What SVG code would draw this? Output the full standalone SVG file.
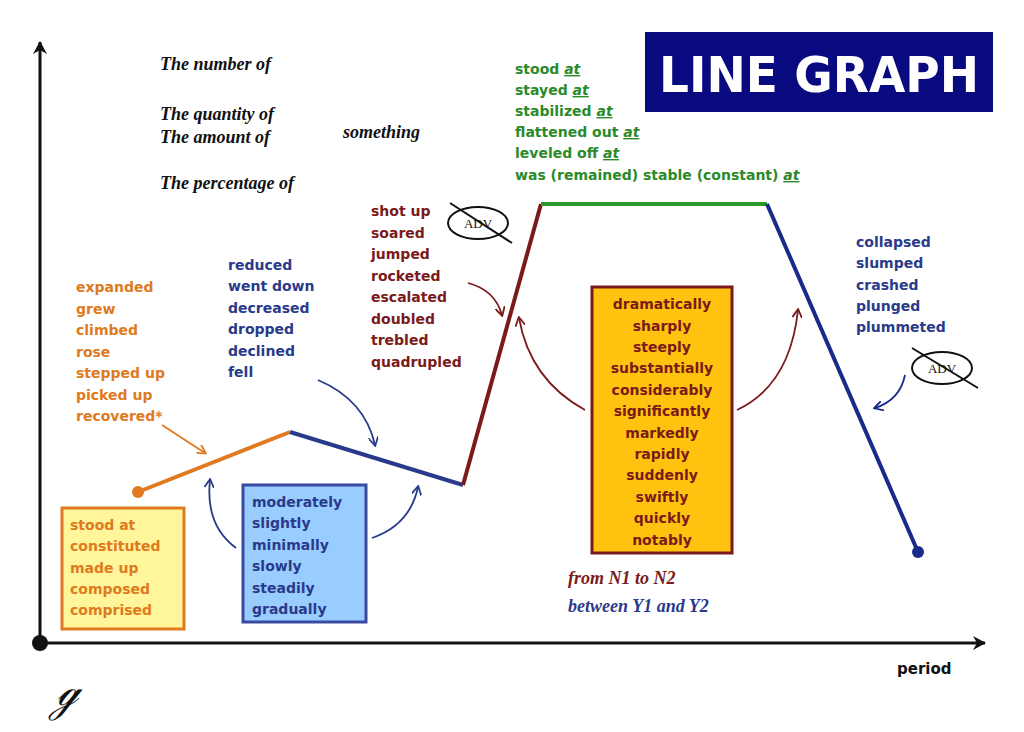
<svg xmlns="http://www.w3.org/2000/svg" width="1024" height="732" viewBox="0 0 1024 732">
<style>
.s{font-family:"Liberation Serif",serif;font-style:italic;font-weight:bold;font-size:18px;fill:#111}
.b{font-family:"DejaVu Sans",sans-serif;font-weight:bold;font-size:14px}
.g{fill:#2a8a2a}.r{fill:#7a1a1a}.o{fill:#e07a20}.n{fill:#2a3a8a}
.a{fill:none;stroke-width:1.8}
</style>
<defs>
<marker id="mk" markerWidth="10" markerHeight="10" refX="8" refY="5" orient="auto" markerUnits="userSpaceOnUse"><path d="M0,0 L9,5 L0,10" fill="none" stroke="context-stroke" stroke-width="1.8"/></marker>
<marker id="ax" markerWidth="14" markerHeight="14" refX="12" refY="7" orient="auto" markerUnits="userSpaceOnUse"><path d="M0,0 L13,7 L0,14 L4,7Z" fill="#111"/></marker>
</defs>
<rect width="1024" height="732" fill="#fff"/>
<g id="axes" stroke="#111" stroke-width="3">
<line x1="40" y1="643" x2="40" y2="42" marker-end="url(#ax)"/>
<line x1="40" y1="643" x2="985" y2="643" marker-end="url(#ax)"/>
<circle cx="40" cy="643" r="8" fill="#111" stroke="none"/>
</g>
<g id="graph" stroke-width="4" fill="none">
<line x1="138" y1="492" x2="290" y2="432" stroke="#e07a20"/>
<circle cx="138" cy="492" r="6" fill="#e07a20" stroke="none"/>
<line x1="290" y1="432" x2="463" y2="485" stroke="#2a3a8a"/>
<line x1="463" y1="485" x2="541" y2="204" stroke="#7a1a1a"/>
<line x1="541" y1="204" x2="767" y2="204" stroke="#2a9a2a"/>
<line x1="767" y1="204" x2="918" y2="552" stroke="#1a2a8a"/>
<circle cx="918" cy="552" r="6" fill="#1a2a8a" stroke="none"/>
</g>
<g id="connectors">
<path class="a" stroke="#e07a20" d="M162,425 L205,453" marker-end="url(#mk)"/>
<path class="a" stroke="#2a3a8a" d="M318,380 Q365,400 375,445" marker-end="url(#mk)"/>
<path class="a" stroke="#2a3a8a" d="M236,548 Q205,525 210,480" marker-end="url(#mk)"/>
<path class="a" stroke="#2a3a8a" d="M372,538 Q410,525 418,487" marker-end="url(#mk)"/>
<path class="a" stroke="#7a1a1a" d="M468,283 Q495,290 502,315" marker-end="url(#mk)"/>
<path class="a" stroke="#7a1a1a" d="M585,410 Q530,380 519,318" marker-end="url(#mk)"/>
<path class="a" stroke="#7a1a1a" d="M737,410 Q790,385 798,310" marker-end="url(#mk)"/>
<path class="a" stroke="#1a2a8a" d="M905,375 Q900,400 875,408" marker-end="url(#mk)"/>
</g>
<g id="subject">
<text class="s" x="160" y="70">The number of</text>
<text class="s" x="160" y="120">The quantity of</text>
<text class="s" x="160" y="143">The amount of</text>
<text class="s" x="160" y="189">The percentage of</text>
<text class="s" x="343" y="138" font-size="26">something</text>
</g>
<g id="title">
<rect x="645" y="32" width="348" height="80" fill="#0a0a80"/>
<text x="819" y="92" text-anchor="middle" font-family="'DejaVu Sans',sans-serif" font-weight="900" font-size="50" fill="#fff" textLength="320" lengthAdjust="spacingAndGlyphs">LINE  GRAPH</text>
</g>
<g id="stable" class="b g">
<text x="515" y="74">stood <tspan font-style="italic" text-decoration="underline">at</tspan></text>
<text x="515" y="95">stayed <tspan font-style="italic" text-decoration="underline">at</tspan></text>
<text x="515" y="116">stabilized <tspan font-style="italic" text-decoration="underline">at</tspan></text>
<text x="515" y="137">flattened out <tspan font-style="italic" text-decoration="underline">at</tspan></text>
<text x="515" y="158">leveled off <tspan font-style="italic" text-decoration="underline">at</tspan></text>
<text x="515" y="180">was (remained) stable (constant) <tspan font-style="italic" text-decoration="underline">at</tspan></text>
</g>
<g id="rise-fast" class="b r">
<text x="371" y="216">shot up</text><text x="371" y="238">soared</text><text x="371" y="259">jumped</text><text x="371" y="281">rocketed</text><text x="371" y="302">escalated</text><text x="371" y="324">doubled</text><text x="371" y="345">trebled</text><text x="371" y="367">quadrupled</text>
</g>
<g id="adv1">
<ellipse cx="478" cy="223" rx="30" ry="16" fill="#fff" stroke="#111" stroke-width="2"/>
<text x="478" y="228" text-anchor="middle" font-family="'Liberation Serif',serif" font-size="13" fill="#111">ADV</text>
<line x1="450" y1="203" x2="512" y2="243" stroke="#111" stroke-width="2"/>
</g>
<g id="rise" class="b o">
<text x="76" y="292">expanded</text><text x="76" y="314">grew</text><text x="76" y="335">climbed</text><text x="76" y="357">rose</text><text x="76" y="378">stepped up</text><text x="76" y="400">picked up</text><text x="76" y="421">recovered*</text>
</g>
<g id="fall" class="b n">
<text x="228" y="270">reduced</text><text x="228" y="291">went down</text><text x="228" y="313">decreased</text><text x="228" y="334">dropped</text><text x="228" y="356">declined</text><text x="228" y="377">fell</text>
</g>
<g id="fall-fast" class="b n">
<text x="856" y="247">collapsed</text><text x="856" y="268">slumped</text><text x="856" y="290">crashed</text><text x="856" y="311">plunged</text><text x="856" y="332">plummeted</text>
</g>
<g id="adv2">
<ellipse cx="942" cy="368" rx="30" ry="16" fill="#fff" stroke="#111" stroke-width="2"/>
<text x="942" y="373" text-anchor="middle" font-family="'Liberation Serif',serif" font-size="13" fill="#111">ADV</text>
<line x1="912" y1="348" x2="978" y2="388" stroke="#111" stroke-width="2"/>
</g>
<g id="start-box">
<rect x="62" y="508" width="122" height="121" fill="#fff59a" stroke="#e07a20" stroke-width="3"/>
<g class="b o"><text x="70" y="530">stood at</text><text x="70" y="551">constituted</text><text x="70" y="573">made up</text><text x="70" y="594">composed</text><text x="70" y="615">comprised</text></g>
</g>
<g id="slow-box">
<rect x="243" y="485" width="123" height="137" fill="#99ccff" stroke="#3a4aa0" stroke-width="3"/>
<g class="b n"><text x="252" y="507">moderately</text><text x="252" y="528">slightly</text><text x="252" y="550">minimally</text><text x="252" y="571">slowly</text><text x="252" y="593">steadily</text><text x="252" y="614">gradually</text></g>
</g>
<g id="fast-box">
<rect x="592" y="287" width="140" height="266" fill="#ffc20e" stroke="#7a1a1a" stroke-width="3"/>
<g class="b r" text-anchor="middle">
<text x="662" y="309">dramatically</text><text x="662" y="331">sharply</text><text x="662" y="352">steeply</text><text x="662" y="373">substantially</text><text x="662" y="395">considerably</text><text x="662" y="416">significantly</text><text x="662" y="438">markedly</text><text x="662" y="459">rapidly</text><text x="662" y="480">suddenly</text><text x="662" y="502">swiftly</text><text x="662" y="523">quickly</text><text x="662" y="545">notably</text>
</g>
</g>
<g id="range">
<text class="s r" x="568" y="584">from N1 to N2</text>
<text class="s n" x="568" y="612">between Y1 and Y2</text>
</g>
<text x="897" y="674" font-family="'DejaVu Sans',sans-serif" font-weight="bold" font-size="15" fill="#111">period</text>
<text x="55" y="705" font-family="'DejaVu Serif',serif" font-style="italic" font-size="40" fill="#111">ℊ</text>
</svg>
